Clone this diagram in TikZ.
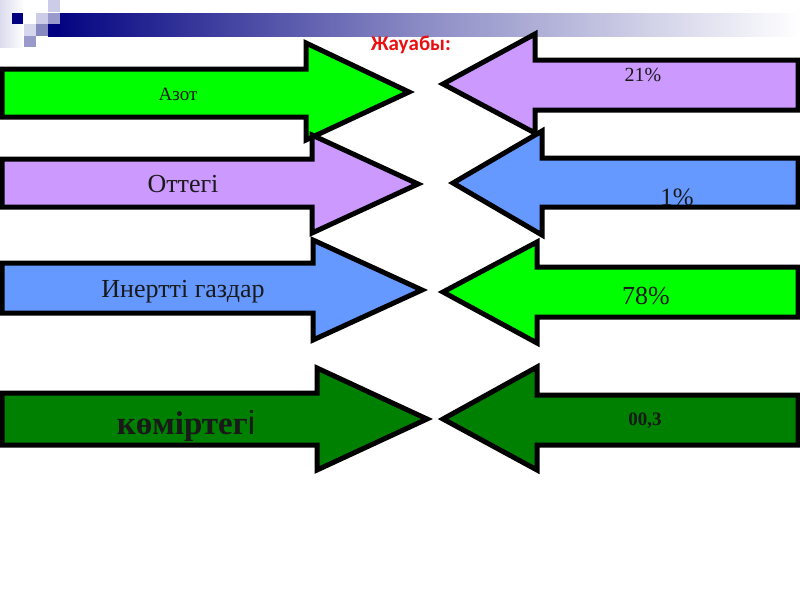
\documentclass[tikz,border=0pt]{standalone}
\usepackage{fontspec}
\setmainfont{Liberation Serif}
\newfontfamily\titlefont{Carlito}
\newfontfamily\thinsans{Liberation Sans}
\definecolor{navy}{HTML}{000080}
\definecolor{lgreen}{HTML}{00FF00}
\definecolor{lpurple}{HTML}{CC99FF}
\definecolor{lblue}{HTML}{6699FF}
\definecolor{dgreen}{HTML}{008000}
\definecolor{sqlight}{HTML}{CCCCE8}
\definecolor{sqmid}{HTML}{9999CC}
\definecolor{sqdark}{HTML}{8888C0}
\definecolor{titlered}{HTML}{E81010}
\tikzset{
  arrowshape/.style={draw=black, line width=5pt, line join=miter, miter limit=10},
  lbl/.style={inner sep=0pt, text=black!90, anchor=center},
}
\begin{document}
\begin{tikzpicture}[x=1pt,y=-1pt]
\useasboundingbox (0,0) rectangle (800,600);
\fill[white] (0,0) rectangle (800,600);
% header decoration
\shade[left color=sqlight!70, right color=white] (0,0) rectangle (24,47);
\shade[left color=navy, right color=white, middle color=navy!45] (48,13) rectangle (800,36);
\fill[navy] (12,13) rectangle (23,24);
\fill[sqlight] (48,0) rectangle (60,12);
\fill[sqlight] (36,13) rectangle (48,24);
\fill[sqmid] (48,13) rectangle (60,24);
\fill[navy] (48,24) rectangle (60,36);
\fill[sqlight!80] (24,24) rectangle (36,36);
\fill[sqdark] (36,24) rectangle (48,36);
\fill[sqmid] (24,36) rectangle (36,47);
% title
\node[lbl, text=titlered, font=\titlefont\bfseries\fontsize{21}{24}\selectfont] (title) at (411,45) {Жауабы:};
% left arrows (pointing right)
\draw[arrowshape, fill=lgreen] (2,69) -- (306,69) -- (306,43) -- (409,92) -- (306,140) -- (306,117) -- (2,117) -- cycle;
\draw[arrowshape, fill=lpurple] (2,159) -- (312,159) -- (312,135) -- (418,184) -- (312,233) -- (312,207) -- (2,207) -- cycle;
\draw[arrowshape, fill=lblue] (2,263) -- (313,263) -- (313,240) -- (422,290) -- (313,340) -- (313,313) -- (2,313) -- cycle;
\draw[arrowshape, fill=dgreen] (2,393) -- (317,393) -- (317,368) -- (427,419) -- (317,470) -- (317,445) -- (2,445) -- cycle;
% right arrows (pointing left)
\draw[arrowshape, fill=lpurple] (798,60) -- (535,60) -- (535,34) -- (443,84) -- (535,133) -- (535,110) -- (798,110) -- cycle;
\draw[arrowshape, fill=lblue] (798,158) -- (542,158) -- (542,131) -- (453,183) -- (542,235) -- (542,207) -- (798,207) -- cycle;
\draw[arrowshape, fill=lgreen] (798,267) -- (537,267) -- (537,242) -- (443,292) -- (537,343) -- (537,317) -- (798,317) -- cycle;
\draw[arrowshape, fill=dgreen] (798,395) -- (537,395) -- (537,367) -- (443,419) -- (537,470) -- (537,445) -- (798,445) -- cycle;
% labels
\node[lbl, font=\fontsize{19}{22}\selectfont] (azot) at (178,94) {Азот};
\node[lbl, font=\fontsize{26}{30}\selectfont] (ottegi) at (183,184) {Оттегі};
\node[lbl, font=\fontsize{26}{30}\selectfont] (inert) at (183,292) {Инертті газдар};
\node[lbl, font=\bfseries\fontsize{33}{38}\selectfont] (komir) at (186,426) {көміртег{\thinsans\mdseries і}};
\node[lbl, font=\fontsize{20}{24}\selectfont] (p21) at (643,75) {21\%};
\node[lbl, font=\fontsize{25}{29}\selectfont] (p1) at (677,197) {1\%};
\node[lbl, font=\fontsize{26}{30}\selectfont] (p78) at (646,296) {78\%};
\node[lbl, font=\bfseries\fontsize{19}{22}\selectfont] (p003) at (645,421) {00,3};
\end{tikzpicture}
\end{document}
